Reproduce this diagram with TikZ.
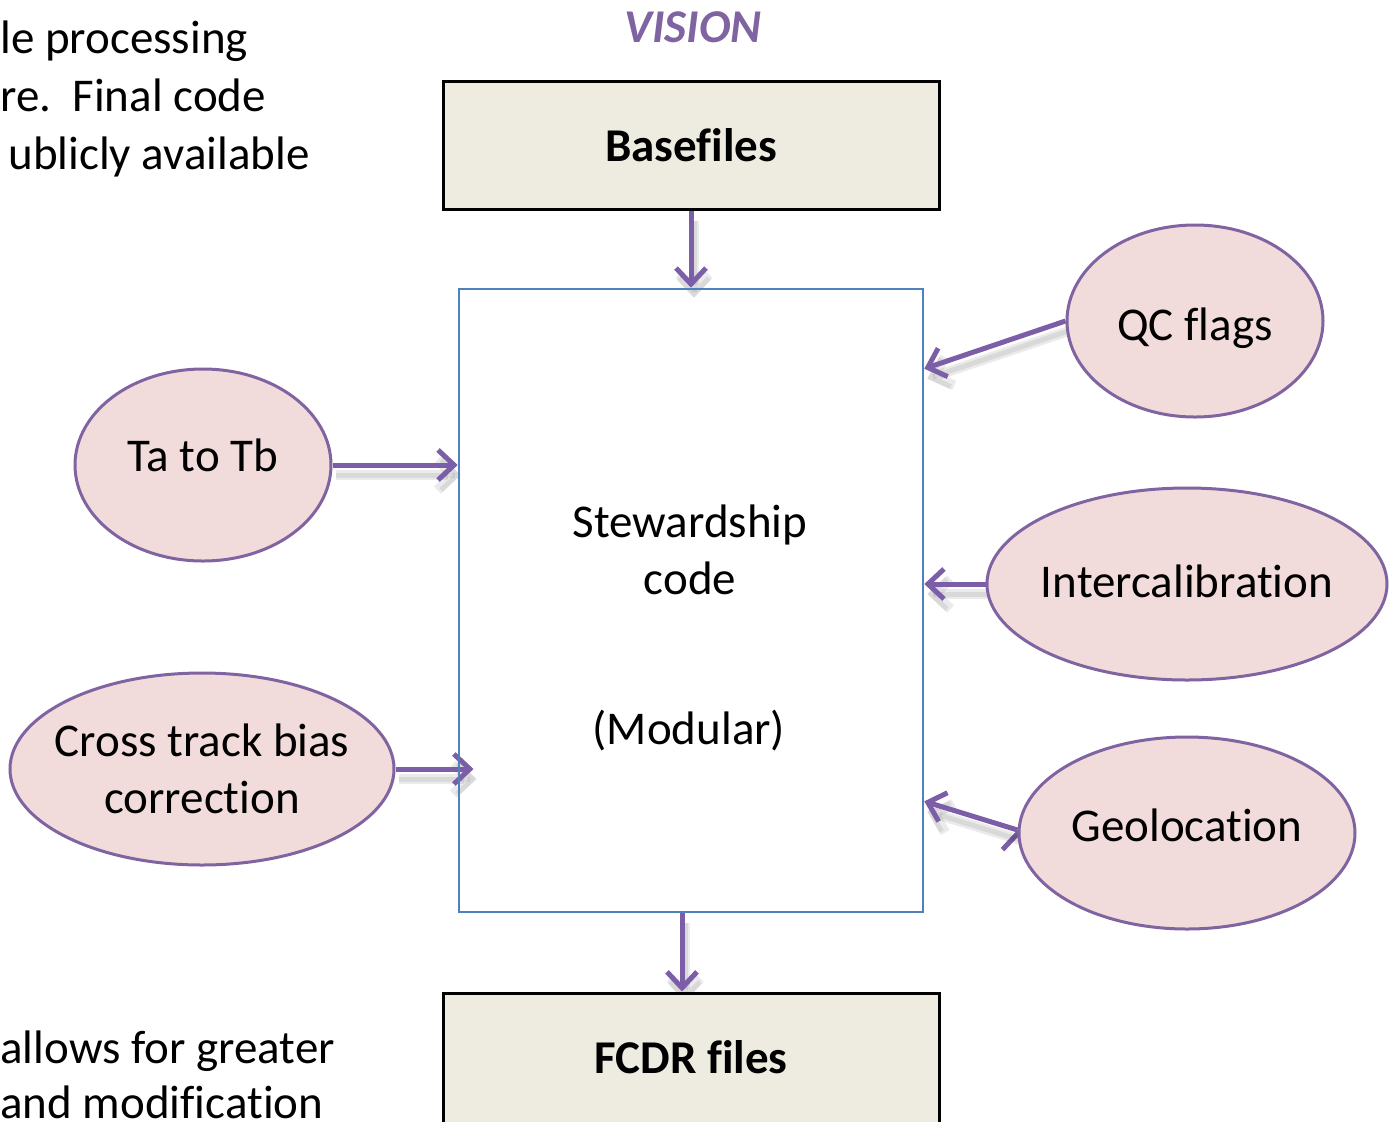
\documentclass[tikz,border=0pt]{standalone}
\usepackage{fontspec}
\setmainfont{Carlito}[Ligatures=CommonOff]
\usepackage{tikz}
\usetikzlibrary{arrows.meta,shapes.geometric,backgrounds}
\definecolor{vpurple}{HTML}{8064A2}
\definecolor{varrow}{HTML}{7B5EA7}
\definecolor{vpink}{HTML}{F2DCDB}
\definecolor{vblue}{HTML}{4F81BD}
\definecolor{vbeige}{HTML}{EEECE1}
\newcommand\lift[2]{\raisebox{#1}[\height][\depth]{#2}}

\begin{document}
\begin{tikzpicture}[x=0.5pt,y=-0.5pt,font=\fontsize{23.5}{28.7}\selectfont,
  >={Straight Barb[length=8pt,width=15pt]},
  file node/.style={rectangle,draw=black,line width=1.5pt,fill=vbeige,minimum width=248pt,minimum height=64pt,font=\fontsize{23.5}{28.7}\selectfont\bfseries},
  code node/.style={rectangle,draw=vblue,line width=1.3pt,minimum width=232pt,minimum height=311.5pt},
  input node/.style={ellipse,draw=vpurple,line width=1.5pt,fill=vpink,inner xsep=-8pt,inner ysep=0pt,minimum height=96pt,align=center},
  arrow shadow/.style={preaction={draw=black,opacity=0.08,line width=5pt,transform canvas={xshift=1.5pt,yshift=-5pt}},
    preaction={draw=black,opacity=0.08,line width=2.5pt,transform canvas={xshift=1.5pt,yshift=-5pt}}},
  side text/.style={anchor=base west,inner sep=0pt}]
  \useasboundingbox (0,0) rectangle (1394,1121);

  \node[text=vpurple,font=\fontsize{23.5}{28.7}\selectfont\bfseries\itshape] (0) at (693,27) {VISION};
  \node[file node] (1) at (691,145) {Basefiles};
  \node[code node] (2) at (691,600.5) {};
  \node[file node,minimum height=69pt] (3) at (691,1062) {\lift{2.5pt}{FCDR files}};
  \node[align=center] (4) at (690,550) {Stewardship\\code};
  \node (5) at (689,731) {(Modular)};

  \node[input node,minimum width=128pt] (6) at (1195,321) {\lift{-3.5pt}{QC flags}};
  \node[input node,minimum width=128pt] (7) at (203,465) {\lift{5pt}{Ta to Tb}};
  \node[input node,minimum width=200pt] (8) at (1187,584) {\lift{1.5pt}{Intercalibration}};
  \node[input node,minimum width=192pt] (9) at (202,769) {Cross track bias\\correction};
  \node[input node,minimum width=168pt] (10) at (1187,833) {\lift{4pt}{Geolocation}};

  \node[side text] (11) at (0,53) {le processing};
  \node[side text] (12) at (0,111) {re.\ \ Final code};
  \node[side text] (13) at (8,169) {ublicly available};
  \node[side text] (14) at (0,1063) {allows for greater};
  \node[side text] (15) at (0,1118) {and modification};

  \begin{pgfonlayer}{background}
  \path[->,draw=varrow,line width=2.5pt]
    (1) edge[arrow shadow] (2)
    ([xshift=-4.5pt]2.south) edge[arrow shadow] ([xshift=-4.5pt]3.north)
    (6.west) edge[arrow shadow] ([yshift=-40.5pt]2.north east)
    (7.east) edge[arrow shadow] (2.west |- 7.east)
    (8.west) edge[arrow shadow] (2.east |- 8.west)
    (9.east) edge[arrow shadow] +(78,0)
    ([yshift=1.5pt]10.west) edge[arrow shadow] ([yshift=56pt]2.south east);
  \end{pgfonlayer}

\end{tikzpicture}
\end{document}
